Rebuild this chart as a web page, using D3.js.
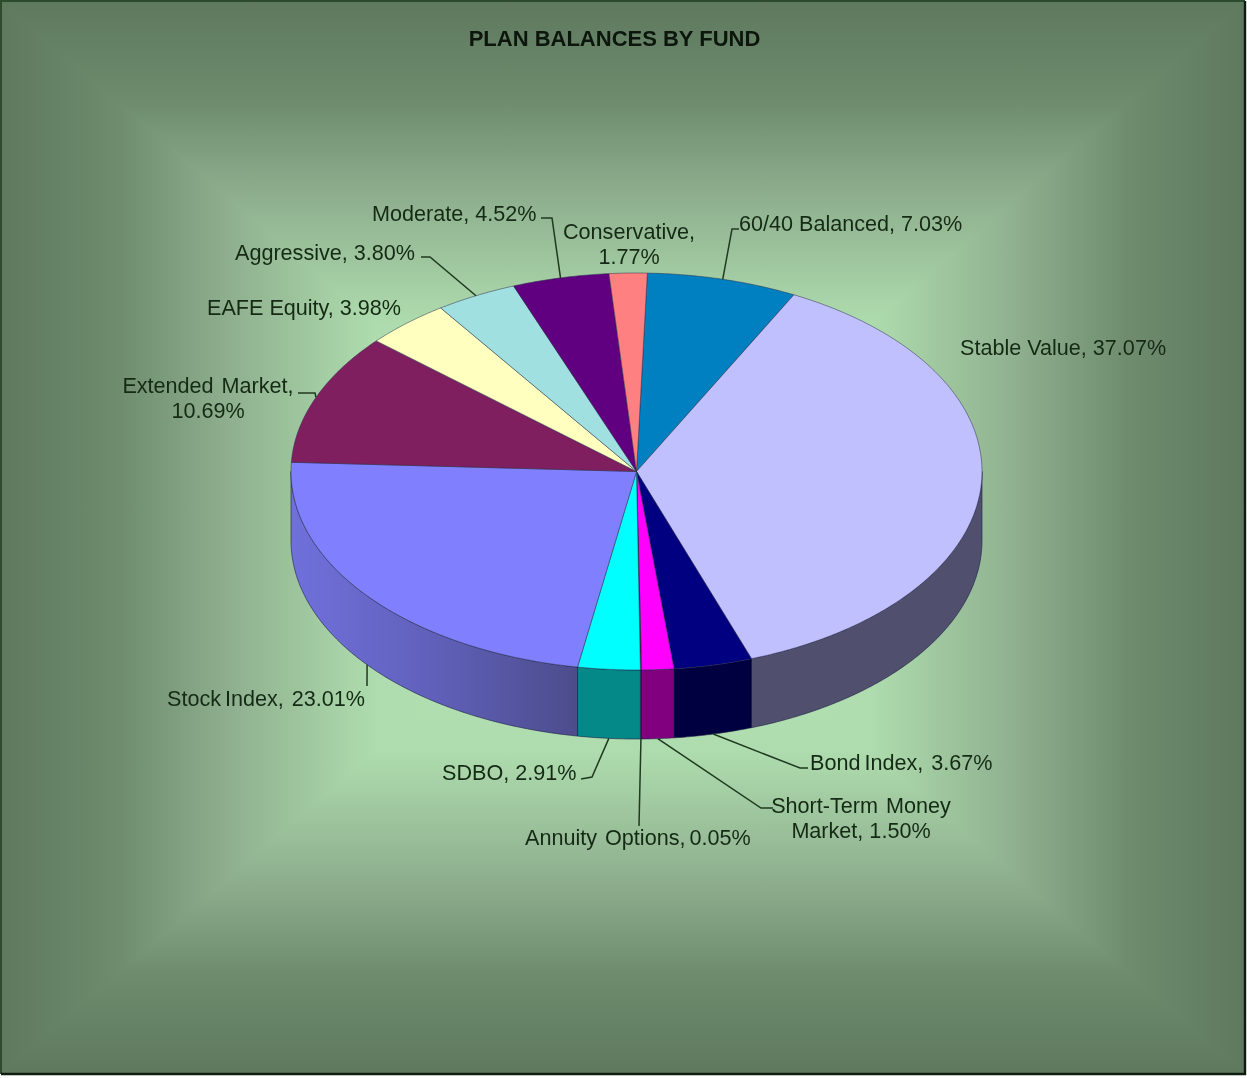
<!DOCTYPE html>
<html>
<head>
<meta charset="utf-8">
<script src="https://cdnjs.cloudflare.com/ajax/libs/d3/7.8.5/d3.min.js"></script>
<style>
  html, body { margin: 0; padding: 0; background: #fff; }
  /* the source is a soft screenshot */
  svg { display: block; filter: blur(0.45px); }
  text { font-family: "Liberation Sans", Arial, sans-serif; fill: #142a14; }
</style>
</head>
<body>
<script>
// Slices in clockwise order, starting at the 60/40 Balanced edge
var funds = ["60/40 Balanced", "Stable Value", "Bond Index", "Short-Term Money Market",
  "Annuity Options", "SDBO", "Stock Index", "Extended Market", "EAFE Equity",
  "Aggressive", "Moderate", "Conservative"];
var shares = [7.03, 37.07, 3.67, 1.50, 0.05, 2.91, 23.01, 10.69, 3.98, 3.80, 4.52, 1.77];
var topColors = ["#0080c0", "#c0c0ff", "#000080", "#ff00ff", "#800040", "#00ffff",
  "#8080ff", "#7f1f5f", "#ffffc0", "#a0e0e0", "#600080", "#ff8080"];
var sideColors = ["#004060", "#50506e", "#000040", "#800080", "#400020", "#048888",
  "url(#stockSide)", "#401030", "#808060", "#507070", "#300040", "#804040"];
var labelLines = [["60/40 Balanced, 7.03%"], ["Stable Value, 37.07%"], ["Bond Index,  3.67%"],
  ["Short-Term  Money", "Market, 1.50%"], ["Annuity  Options, 0.05%"], ["SDBO, 2.91%"],
  ["Stock Index,  23.01%"], ["Extended  Market,", "10.69%"], ["EAFE Equity, 3.98%"],
  ["Aggressive, 3.80%"], ["Moderate, 4.52%"], ["Conservative,", "1.77%"]];

// Label placement: left edge / centre and first baseline
var labelX = [739, 960, 810, 861, 525, 442, 167, 208, 207, 235, 372, 629];
var labelY = [231, 355, 770, 813, 845, 780, 706, 393, 315, 260, 221, 239];
var labelAnchor = ["start", "start", "start", "middle", "start", "start", "start", "middle", "start", "start", "start", "middle"];
// Elbows of the leader lines, label end first
var leaderElbows = [[[739, 229], [732, 229]], null, [[808, 768], [800, 768]], [[773, 808], [761, 808]],
  [[639, 826]], [[581, 779], [592, 777]], [[367, 686]], [[298, 393], [315, 393]], null,
  [[421, 257], [430, 257]], [[541, 218], [552, 218]], null];

var width = 1247, height = 1078;
var frame = {left: 1, top: 1, right: 1245, bottom: 1074};
var glow = {x: 623, y: 538};

var cx = 636.5, cy = 471.5, rx = 345.5, ry = 198.5, depth = 69;
var startDeg = 1.8;

var svg = d3.select("body").append("svg")
  .attr("width", width)
  .attr("height", height);
var defs = svg.append("defs");

// Background is a rectangular path gradient: four triangles meeting at the glow point
var bgStops = [[0, "#b6e6b6"], [0.4, "#aedcae"], [0.63, "#8fb08f"], [0.81, "#6f8c6f"], [1, "#5e795e"]];
var corners = {
  tl: [frame.left, frame.top], tr: [frame.right, frame.top],
  br: [frame.right, frame.bottom], bl: [frame.left, frame.bottom]
};
var sides = [
  {id: "bgTop", a: corners.tl, b: corners.tr, x2: glow.x, y2: frame.top},
  {id: "bgRight", a: corners.tr, b: corners.br, x2: frame.right, y2: glow.y},
  {id: "bgBottom", a: corners.br, b: corners.bl, x2: glow.x, y2: frame.bottom},
  {id: "bgLeft", a: corners.bl, b: corners.tl, x2: frame.left, y2: glow.y}
];
sides.forEach(function(s) {
  var g = defs.append("linearGradient")
    .attr("id", s.id)
    .attr("gradientUnits", "userSpaceOnUse")
    .attr("x1", glow.x).attr("y1", glow.y)
    .attr("x2", s.x2).attr("y2", s.y2);
  bgStops.forEach(function(st) {
    g.append("stop").attr("offset", st[0]).attr("stop-color", st[1]);
  });
});
svg.selectAll("polygon.bg")
  .data(sides)
  .enter().append("polygon")
    .attr("class", "bg")
    .attr("points", function(s) { return [s.a, s.b, [glow.x, glow.y]].join(" "); })
    .attr("fill", function(s) { return "url(#" + s.id + ")"; })
    .attr("shape-rendering", "crispEdges");

// Frame: dark green on top and left, near black on right and bottom
svg.append("path").attr("d", "M1,1074V1H1245").attr("fill", "none").attr("stroke", "#2c4a2c").attr("stroke-width", 2);
svg.append("path").attr("d", "M1245,1V1074H1").attr("fill", "none").attr("stroke", "#101c12").attr("stroke-width", 2.4);

var stockGrad = defs.append("linearGradient")
  .attr("id", "stockSide")
  .attr("gradientUnits", "userSpaceOnUse")
  .attr("x1", 291).attr("y1", 0).attr("x2", 578).attr("y2", 0);
stockGrad.append("stop").attr("offset", 0).attr("stop-color", "#7070dc");
stockGrad.append("stop").attr("offset", 0.5).attr("stop-color", "#6060ba");
stockGrad.append("stop").attr("offset", 1).attr("stop-color", "#4c4c8c");

// Unit circle to picture coordinates, tilted by the two different radii
var x = d3.scaleLinear().domain([-1, 1]).range([cx - rx, cx + rx]);
var y = d3.scaleLinear().domain([-1, 1]).range([cy + ry, cy - ry]);
var px = function(a) { return x(Math.sin(a)); };
var py = function(a) { return y(Math.cos(a)); };

var line = d3.line();

function rimAngles(a0, a1) {
  var n = Math.max(2, Math.ceil((a1 - a0) / 0.01));
  return d3.range(n + 1).map(function(i) { return a0 + (a1 - a0) * i / n; });
}

var start = startDeg * Math.PI / 180;
var pie = d3.pie()
  .sort(null)
  .startAngle(start)
  .endAngle(start + 2 * Math.PI)
  .value(function(d) { return d; });
var slices = pie(shares);

// Only the front half of the rim has a visible wall
var frontFrom = Math.PI / 2, frontTo = 3 * Math.PI / 2;
var walls = slices.filter(function(d) {
  return d.endAngle > frontFrom && d.startAngle < frontTo;
});

svg.selectAll("path.wall")
  .data(walls)
  .enter().append("path")
    .attr("class", "wall")
    .attr("d", function(d) {
      var as = rimAngles(Math.max(d.startAngle, frontFrom), Math.min(d.endAngle, frontTo));
      var upper = as.map(function(a) { return [px(a), py(a)]; });
      var lower = as.slice().reverse().map(function(a) { return [px(a), py(a) + depth]; });
      return line(upper.concat(lower)) + "Z";
    })
    .attr("fill", function(d) { return sideColors[d.index]; })
    .attr("stroke", "#1c1c44")
    .attr("stroke-width", 0.6);

svg.selectAll("path.face")
  .data(slices)
  .enter().append("path")
    .attr("class", "face")
    .attr("d", function(d) {
      var rim = rimAngles(d.startAngle, d.endAngle).map(function(a) { return [px(a), py(a)]; });
      return line([[cx, cy]].concat(rim)) + "Z";
    })
    .attr("fill", function(d) { return topColors[d.index]; })
    .attr("stroke", "#2a2a4a")
    .attr("stroke-width", 0.5);

// Leader lines run from each slice's outer rim mid point to its label
svg.selectAll("path.leader")
  .data(slices.filter(function(d) { return leaderElbows[d.index]; }))
  .enter().append("path")
    .attr("class", "leader")
    .attr("d", function(d) {
      var mid = (d.startAngle + d.endAngle) / 2;
      var front = mid > frontFrom && mid < frontTo;
      var end = [px(mid), py(mid) + (front ? depth : 0)];
      return line(leaderElbows[d.index].concat([end]));
    })
    .attr("fill", "none")
    .attr("stroke", "#1f3a1f")
    .attr("stroke-width", 1.5);

svg.append("text")
  .attr("x", 614.5)
  .attr("y", 46)
  .attr("text-anchor", "middle")
  .attr("font-size", 22)
  .attr("font-weight", "bold")
  .style("fill", "#0c160c")
  .text("PLAN BALANCES BY FUND");

var labels = svg.selectAll("text.label")
  .data(labelLines)
  .enter().append("text")
    .attr("class", "label")
    .attr("font-size", 21.6)
    .attr("text-anchor", function(d, i) { return labelAnchor[i]; })
    .style("white-space", "pre");

labels.selectAll("tspan")
  .data(function(d, i) {
    return d.map(function(t, j) { return {t: t, i: i, j: j}; });
  })
  .enter().append("tspan")
    .attr("x", function(d) { return labelX[d.i]; })
    .attr("y", function(d) { return labelY[d.i] + d.j * 25; })
    // lines with a double space sit a little tighter in the source
    .style("word-spacing", function(d) { return d.t.indexOf("  ") >= 0 ? "-2px" : null; })
    .text(function(d) { return d.t; });
</script>
</body>
</html>
